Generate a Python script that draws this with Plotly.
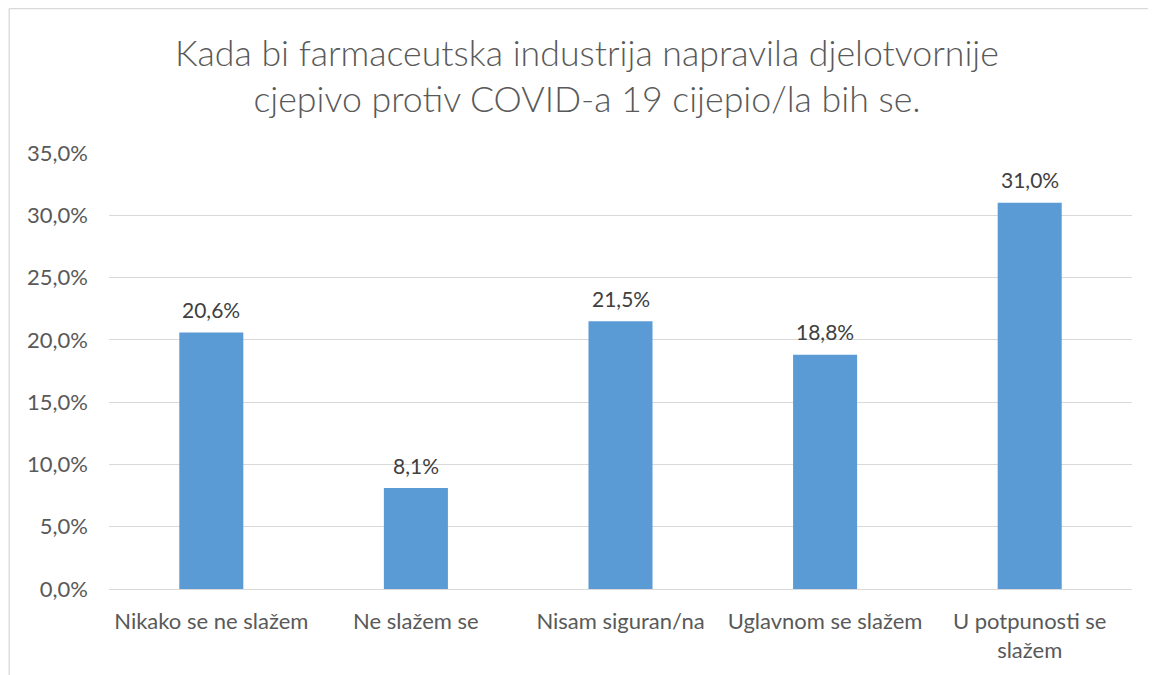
import plotly.graph_objects as go

categories = ["Nikako se ne slažem", "Ne slažem se", "Nisam siguran/na",
              "Uglavnom se slažem", "U potpunosti se<br>slažem"]
values = [20.6, 8.1, 21.5, 18.8, 31.0]
value_labels = ["20,6%", "8,1%", "21,5%", "18,8%", "31,0%"]
tick_vals = [0, 5, 10, 15, 20, 25, 30, 35]
tick_text = ["0,0%", "5,0%", "10,0%", "15,0%", "20,0%", "25,0%", "30,0%", "35,0%"]
title_text = ("Kada bi farmaceutska industrija napravila djelotvornije<br>"
              "cjepivo protiv COVID-a 19 cijepio/la bih se.")

# page has an 8px body margin, so the figure is sized/offset accordingly
W, H = 1148, 667
L, R, T, B = 101, 24, 145, 86
pw, ph = W - L - R, H - T - B

def px_x(x):
    return (x - L) / pw

def px_y(y):
    return (H - B - y) / ph

fig = go.Figure(go.Bar(
    x=categories, y=values,
    marker=dict(color="#5B9BD5", line=dict(width=0)),
    width=0.313,
))

for c, v, t in zip(categories, values, value_labels):
    fig.add_annotation(x=c, y=v, text=t, showarrow=False,
                       xanchor="center", yanchor="middle", yshift=23,
                       font=dict(size=21, color="#404040"))

fig.update_layout(
    width=W, height=H,
    margin=dict(l=L, r=R, t=T, b=B),
    paper_bgcolor="white", plot_bgcolor="white",
    font=dict(family="Lato, Carlito, sans-serif", color="#595959"),
    title=dict(text=title_text, x=579 / W, xanchor="center", y=1 - 58 / H,
               yanchor="middle", yref="container",
               font=dict(size=35.7, color="#595959", weight=300)),
    showlegend=False,
    xaxis=dict(showgrid=False, showline=False, ticks="", ticklabelstandoff=17,
               tickfont=dict(size=22, color="#595959")),
    yaxis=dict(range=[0, 35], tickvals=tick_vals, ticktext=tick_text,
               showgrid=True, gridcolor="#D9D9D9", gridwidth=1.3,
               zeroline=True, zerolinecolor="#D9D9D9", zerolinewidth=1.3,
               showline=False, ticks="", ticklabelstandoff=20,
               tickfont=dict(size=22, color="#595959")),
    shapes=[
        dict(type="line", xref="paper", yref="paper",
             x0=px_x(1), x1=px_x(1148), y0=px_y(0.7), y1=px_y(0.7),
             line=dict(color="#D9D9D9", width=1.3)),
        dict(type="line", xref="paper", yref="paper",
             x0=px_x(1.2), x1=px_x(1.2), y0=px_y(0.7), y1=px_y(667),
             line=dict(color="#D9D9D9", width=1.3)),
    ],
)

fig.write_html("out.html")
